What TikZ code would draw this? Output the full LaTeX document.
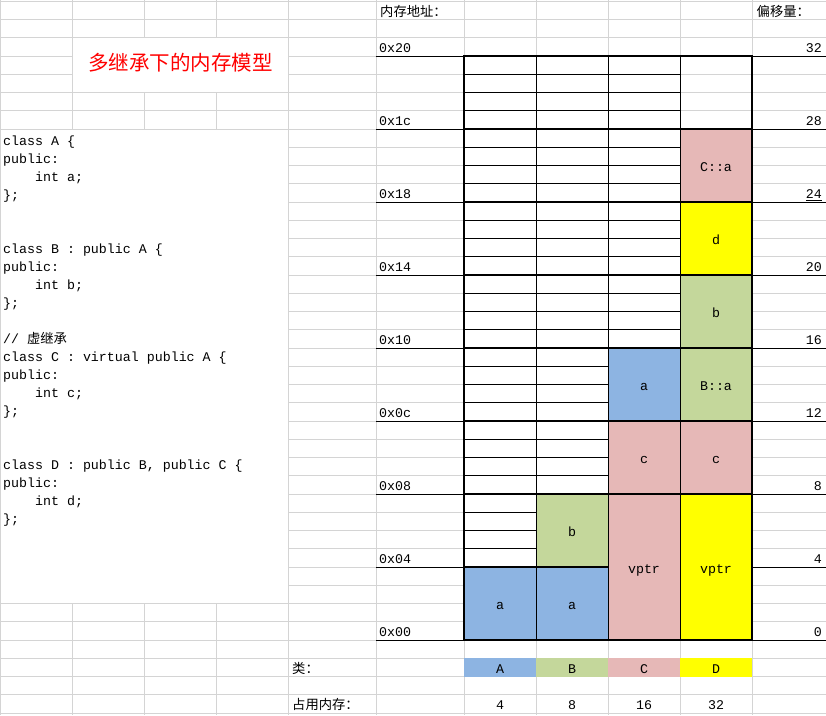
\documentclass[tikz,border=0pt]{standalone}
\usepackage{fontspec}
\setmainfont{Liberation Mono}
\setmonofont{Liberation Mono}
\newfontfamily\cjk{Noto Sans CJK SC}
\usetikzlibrary{positioning}

\definecolor{gridgray}{RGB}{212,212,212}
\definecolor{clsA}{RGB}{141,180,226}
\definecolor{clsB}{RGB}{196,215,155}
\definecolor{clsC}{RGB}{230,184,183}
\definecolor{clsD}{RGB}{255,255,0}
\newcommand\rh{18.25}

\begin{document}
\begin{tikzpicture}[x=1pt,y=-1pt,
        font=\fontsize{13.3}{16}\selectfont,
        cell/.style={draw, line width=1pt, minimum width=72pt, minimum height=73pt, inner sep=0pt, outer sep=0pt, text height=12pt, text depth=0pt},
        tall/.style={cell, minimum height=146pt},
        tag/.style={minimum width=72pt, minimum height=18.25pt, inner sep=0pt, outer sep=0pt, text height=12pt, text depth=0pt},
        label/.style={anchor=base west, inner sep=0pt},
        cjklabel/.style={label, font=\cjk\fontsize{13.3}{16}\selectfont},
        thinline/.style={line width=1pt},
        thickline/.style={line width=2pt}]
        \fill[white] (0,0) rectangle (826,715);
        \useasboundingbox (0,0) rectangle (826,715);

        % sheet grid
        \foreach \k in {0,...,39}
            \draw[gridgray, thinline] (0,{1.25+\k*\rh}) -- (826,{1.25+\k*\rh});
        \foreach \x in {0.5,72,144,216,288,376,464,536,608,680,752}
            \draw[gridgray, thinline] (\x,0) -- (\x,715);
        \fill[white] (72.5,38.3) rectangle (287.5,91.8);
        \fill[white] (1,130) rectangle (287.5,603.3);

        \node (title) [text=red, font=\cjk\fontsize{20.5}{24}\selectfont] at (180.5,63) {多继承下的内存模型};
        \node (addrhead) [cjklabel] at (380,16.5) {内存地址：};
        \node (offhead) [cjklabel] at (756.5,16.5) {偏移量：};

        % source code
        \node (code) [label] at (3,145) {\parbox[t]{284pt}{\frenchspacing\baselineskip=18pt
            class A \{\\
            public:\\
            \hspace*{32pt}int a;\\
            \};\\
            \mbox{}\\
            \mbox{}\\
            class B : public A \{\\
            public:\\
            \hspace*{32pt}int b;\\
            \};\\
            \mbox{}\\
            // {\cjk 虚继承}\\
            class C : virtual public A \{\\
            public:\\
            \hspace*{32pt}int c;\\
            \};\\
            \mbox{}\\
            \mbox{}\\
            class D : public B, public C \{\\
            public:\\
            \hspace*{32pt}int d;\\
            \};}};

        % addresses and offsets
        \foreach \k/\a/\o in {32/0x20/32, 28/0x1c/28, 24/0x18/\underline{24}, 20/0x14/20, 16/0x10/16, 12/0x0c/12, 8/0x08/8, 4/0x04/4, 0/0x00/0} {
            \node (addr\k) [label] at (379,{636.5-\k*\rh}) {\a};
            \node (off\k) [label, anchor=base east] at (822,{636.5-\k*\rh}) {\o};
            \draw[thinline] (376,{640-\k*\rh}) -- (464,{640-\k*\rh});
            \draw[thinline] (752,{640-\k*\rh}) -- (826,{640-\k*\rh});
        }

        % empty bytes
        \foreach \k in {5,6,7}
            \draw[thinline] (464,{640-\k*\rh}) -- (536,{640-\k*\rh});
        \foreach \k in {9,...,31}
            \draw[thinline] (464,{640-\k*\rh}) -- (608,{640-\k*\rh});
        \foreach \k in {17,...,31}
            \draw[thinline] (608,{640-\k*\rh}) -- (680,{640-\k*\rh});

        % object layouts
        \node (memA_a) [cell, fill=clsA] at (500,603.5) {a};

        \node (memB_a) [cell, fill=clsA] at (572,603.5) {a};
        \node (memB_b) [cell, fill=clsB, above=0pt of memB_a] {b};

        \node (memC_vptr) [tall, fill=clsC] at (644,567) {vptr};
        \node (memC_c) [cell, fill=clsC, above=0pt of memC_vptr] {c};
        \node (memC_a) [cell, fill=clsA, above=0pt of memC_c] {a};

        \node (memD_vptr) [tall, fill=clsD] at (716,567) {vptr};
        \node (memD_c) [cell, fill=clsC, above=0pt of memD_vptr] {c};
        \node (memD_Ba) [cell, fill=clsB, above=0pt of memD_c] {B::a};
        \node (memD_b) [cell, fill=clsB, above=0pt of memD_Ba] {b};
        \node (memD_d) [cell, fill=clsD, above=0pt of memD_b] {d};
        \node (memD_Ca) [cell, fill=clsC, above=0pt of memD_d] {C::a};

        \foreach \x in {536,608,680}
            \draw[thinline] (\x,56) -- (\x,640);
        \foreach \k in {8,12,...,28}
            \draw[thickline] (464,{640-\k*\rh}) -- (752,{640-\k*\rh});
        \draw[thickline] (464,{640-4*\rh}) -- (608,{640-4*\rh});
        \draw[thickline] (464,56) rectangle (752,640);

        % legend rows
        \node (clslabel) [cjklabel] at (292,673.5) {类：};
        \node (sizelabel) [cjklabel] at (292,709.5) {占用内存：};
        \foreach \c/\x/\s in {A/500/4, B/572/8, C/644/16, D/716/32} {
            \node (tag\c) [tag, fill=cls\c] at (\x,667.4) {\c};
            \node (size\c) [tag] at (\x,703.9) {\s};
        }
    \end{tikzpicture}
\end{document}
